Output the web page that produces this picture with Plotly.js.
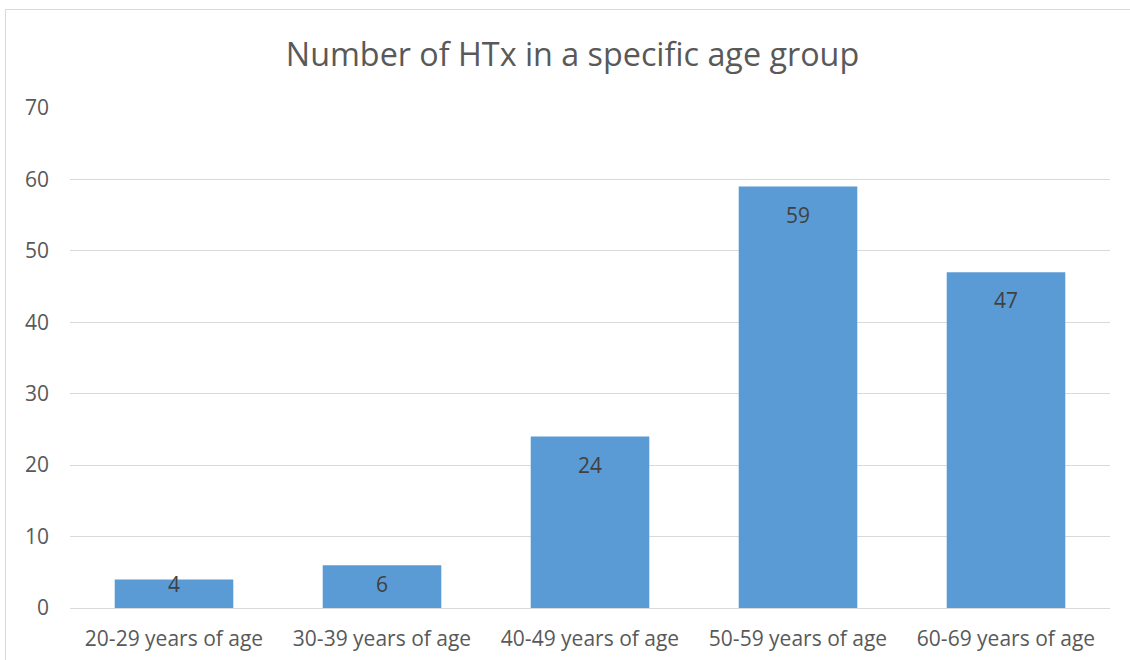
<!DOCTYPE html>
<html>
<head>
<meta charset="utf-8">
<script src="https://cdn.plot.ly/plotly-3.0.1.min.js"></script>
<style>
  html, body { margin: 0; padding: 0; background: #ffffff; overflow: hidden; }
  #frame { position: absolute; left: 5px; top: 9px; width: 1200px; height: 800px; border: 1px solid #d9d9d9; box-sizing: border-box; }
  #chart { position: absolute; left: 0; top: 0; width: 1130px; height: 660px; }
</style>
</head>
<body>
<div id="frame"></div>
<div id="chart"></div>
<script>
const categories = ["20-29 years of age", "30-39 years of age", "40-49 years of age", "50-59 years of age", "60-69 years of age"];
const values = [4, 6, 24, 59, 47];
const yTicks = [0, 10, 20, 30, 40, 50, 60, 70];
const chartTitle = "Number of HTx in a specific age group";

const W = 1130, H = 660;
const margin = {l: 70, r: 20, t: 108, b: 52, pad: 0};
const yRange = [0, 70];
const pxPerUnit = (H - margin.t - margin.b) / (yRange[1] - yRange[0]);

const font = "'Open Sans', 'DejaVu Sans', sans-serif";

const trace = {
  type: 'bar',
  x: categories,
  y: values,
  marker: {color: '#5b9bd5', line: {width: 0}},
  hoverinfo: 'none'
};

const annotations = values.map((v, i) => ({
  x: categories[i],
  y: v,
  xref: 'x', yref: 'y',
  text: String(v),
  showarrow: false,
  yanchor: 'middle',
  yshift: -Math.min(28, v * pxPerUnit - 24),
  font: {family: font, size: 21, color: '#404040'}
}));

const layout = {
  width: W, height: H,
  margin: margin,
  paper_bgcolor: 'rgba(0,0,0,0)',
  plot_bgcolor: 'rgba(0,0,0,0)',
  showlegend: false,
  bargap: 0.43,
  title: {
    text: chartTitle,
    font: {family: font, size: 32.3, color: '#595959'},
    xref: 'container', yref: 'container',
    x: 572.5 / W, xanchor: 'center',
    y: 1 - 55 / H, yanchor: 'middle'
  },
  xaxis: {
    type: 'category',
    showgrid: false,
    showline: true, linecolor: '#d9d9d9', linewidth: 1,
    ticks: '', ticklabelstandoff: 12,
    tickfont: {family: font, size: 21, color: '#595959'},
    zeroline: false, fixedrange: true
  },
  yaxis: {
    range: yRange,
    tickvals: yTicks,
    ticktext: yTicks.map(String),
    showgrid: true, gridcolor: '#d9d9d9', gridwidth: 1,
    showline: false, zeroline: false,
    ticks: '', ticklabelstandoff: 20,
    tickfont: {family: font, size: 21, color: '#595959'},
    fixedrange: true
  },
  annotations: annotations
};

Plotly.newPlot('chart', [trace], layout, {displayModeBar: false, staticPlot: true});
</script>
</body>
</html>
